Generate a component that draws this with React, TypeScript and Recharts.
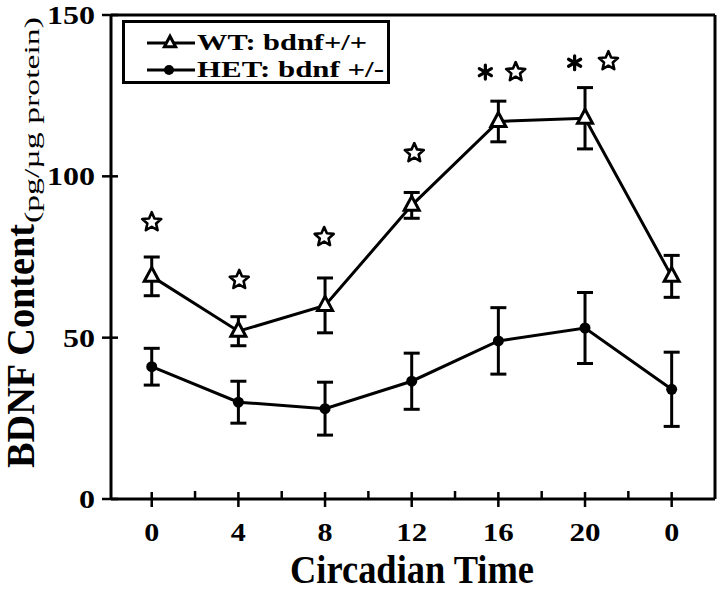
import React from "react";
import {
  ComposedChart,
  Line,
  Scatter,
  XAxis,
  YAxis,
  ErrorBar,
  ReferenceLine,
  Legend,
} from "recharts";

const FONT = "'Liberation Serif', 'Times New Roman', serif";

// circadian time points (x index 0..6)
const timeLabels = ["0", "4", "8", "12", "16", "20", "0"];

// BDNF content, pg/µg protein
const wtMean = [69, 52, 60, 91, 117, 118, 69];
const wtSem = [6, 4.5, 8.5, 4, 6.3, 9.5, 6.5];
const hetMean = [41, 30, 28, 36.5, 49, 53, 34];
const hetSem = [5.7, 6.5, 8.2, 8.7, 10.3, 11, 11.5];

// significance marks (x in time-index units)
const starX = [0, 1.01, 1.99, 3.03, 4.2, 5.27];
const starY = [85.8, 67.9, 81.2, 107.2, 132.3, 135.7];
const asteriskX = [3.85, 4.88];
const asteriskY = [132.3, 135.2];

const yTicks = [0, 50, 100, 150];
const xTicks = [0, 0.5, 1, 1.5, 2, 2.5, 3, 3.5, 4, 4.5, 5, 5.5, 6];
const seriesOrder = ["wt", "het"];

const rows = timeLabels.map((_, i) => ({
  x: i,
  wt: wtMean[i],
  wtErr: wtSem[i],
  het: hetMean[i],
  hetErr: hetSem[i],
}));
const stars = starX.map((x, i) => ({ x, y: starY[i] }));
const asterisks = asteriskX.map((x, i) => ({ x, y: asteriskY[i] }));

function XTick(props: any) {
  const { x, y, payload } = props;
  const v = payload.value;
  if (!Number.isInteger(v)) {
    return <line x1={x} x2={x} y1={y - 8} y2={y} stroke="#000" strokeWidth={2.5} />;
  }
  const label = timeLabels[v];
  return (
    <g>
      <line x1={x} x2={x} y1={y - 7} y2={y + 8} stroke="#000" strokeWidth={2.5} />
      <text
        x={x}
        y={y + 42}
        textAnchor="middle"
        fontFamily={FONT}
        fontWeight="bold"
        fontSize={26}
        textLength={label.length * 16 - 1}
        lengthAdjust="spacingAndGlyphs"
      >
        {label}
      </text>
    </g>
  );
}

function YTick(props: any) {
  const { x, y, payload } = props;
  const label = String(payload.value);
  return (
    <g>
      <line x1={x - 9} x2={x + 7} y1={y} y2={y} stroke="#000" strokeWidth={2.5} />
      <text
        x={x - 16}
        y={y + 9}
        textAnchor="end"
        fontFamily={FONT}
        fontWeight="bold"
        fontSize={26}
        textLength={label.length * 16}
        lengthAdjust="spacingAndGlyphs"
      >
        {label}
      </text>
    </g>
  );
}

function Triangle(p: any) {
  const { cx, cy, size = 1 } = p;
  if (cx == null || cy == null) return null;
  return (
    <polygon
      points={`${cx},${cy - 9 * size} ${cx - 7.5 * size},${cy + 5 * size} ${cx + 7.5 * size},${cy + 5 * size}`}
      fill="#fff"
      stroke="#000"
      strokeWidth={3}
    />
  );
}

function Dot(p: any) {
  const { cx, cy } = p;
  if (cx == null || cy == null) return null;
  return <circle cx={cx} cy={cy} r={5.5} fill="#000" />;
}

function StarMark(p: any) {
  const { cx, cy } = p;
  if (cx == null || cy == null) return null;
  const pts: string[] = [];
  for (let k = 0; k < 10; k++) {
    const r = k % 2 === 0 ? 10 : 4.6;
    const a = -Math.PI / 2 + (k * Math.PI) / 5;
    pts.push(`${cx + r * Math.cos(a)},${cy + r * Math.sin(a)}`);
  }
  return <polygon points={pts.join(" ")} fill="#fff" stroke="#000" strokeWidth={2.6} strokeLinejoin="round" />;
}

function AsteriskMark(p: any) {
  const { cx, cy } = p;
  if (cx == null || cy == null) return null;
  const arms = [0, 60, 120].map((deg) => {
    const a = (deg * Math.PI) / 180;
    const dx = 7 * Math.sin(a);
    const dy = 7 * Math.cos(a);
    return <line key={deg} x1={cx - dx} y1={cy - dy} x2={cx + dx} y2={cy + dy} stroke="#000" strokeWidth={3.2} strokeLinecap="round" />;
  });
  return <g>{arms}</g>;
}

function XLabel() {
  return (
    <text
      x={412}
      y={583}
      textAnchor="middle"
      fontFamily={FONT}
      fontWeight="bold"
      fontSize={40}
      textLength={244}
      lengthAdjust="spacingAndGlyphs"
    >
      Circadian Time
    </text>
  );
}

function YLabel() {
  return (
    <g>
      <text
        x={34}
        y={346}
        transform="rotate(-90, 34, 346)"
        textAnchor="middle"
        fontFamily={FONT}
        fontWeight="bold"
        fontSize={39}
        textLength={244}
        lengthAdjust="spacingAndGlyphs"
      >
        BDNF Content
      </text>
      <text
        x={39}
        y={120}
        transform="rotate(-90, 39, 120)"
        textAnchor="middle"
        fontFamily={FONT}
        fontSize={22}
        textLength={206}
        lengthAdjust="spacingAndGlyphs"
      >
        (pg/µg protein)
      </text>
    </g>
  );
}

function LegendBox(props: any) {
  const items = (props.payload || [])
    .filter((e: any) => e.type !== "none")
    .sort((a: any, b: any) => seriesOrder.indexOf(a.dataKey) - seriesOrder.indexOf(b.dataKey));
  return (
    <div
      style={{
        width: 268,
        height: 64,
        border: "3px solid #000",
        boxSizing: "border-box",
        background: "#fff",
      }}
    >
      <svg width={262} height={58} style={{ display: "block" }}>
        {items.map((e: any, i: number) => {
          const y = 20 + i * 27;
          return (
            <g key={e.value}>
              <line x1={22} x2={70} y1={y} y2={y} stroke="#000" strokeWidth={3} />
              {e.dataKey === "wt" ? (
                <Triangle cx={45} cy={y} size={0.75} />
              ) : (
                <circle cx={44} cy={y} r={5} fill="#000" />
              )}
              <text
                x={72}
                y={y + 7}
                fontFamily={FONT}
                fontWeight="bold"
                fontSize={23}
                textLength={i === 0 ? 170 : 187}
                lengthAdjust="spacingAndGlyphs"
              >
                {e.value}
              </text>
            </g>
          );
        })}
      </svg>
    </div>
  );
}

export default function App() {
  return (
    <div style={{ position: "absolute", left: 0, top: 0, background: "#fff" }}>
      <ComposedChart
        width={720}
        height={591}
        data={rows}
        margin={{ top: 15, right: 5, bottom: 0, left: 0 }}
      >
        <XAxis
          type="number"
          dataKey="x"
          domain={[-0.47, 6.5]}
          ticks={xTicks}
          interval={0}
          height={92}
          tickSize={0}
          tickMargin={0}
          tickLine={false}
          axisLine={{ stroke: "#000", strokeWidth: 3 }}
          tick={<XTick />}
          label={{ content: <XLabel /> }}
        />
        <YAxis
          type="number"
          domain={[0, 150]}
          ticks={yTicks}
          interval={0}
          width={111}
          tickSize={0}
          tickMargin={0}
          tickLine={false}
          axisLine={{ stroke: "#000", strokeWidth: 3 }}
          tick={<YTick />}
          label={{ content: <YLabel /> }}
        />
        <ReferenceLine y={150} stroke="#000" strokeWidth={3} />
        <ReferenceLine x={6.5} stroke="#000" strokeWidth={3} />
        <Legend
          layout="horizontal"
          verticalAlign="middle"
          align="center"
          wrapperStyle={{ left: 122, top: 20, width: 268, height: 64 }}
          content={<LegendBox />}
        />
        <Line
          dataKey="wt"
          name="WT: bdnf+/+"
          type="linear"
          stroke="#000"
          strokeWidth={3}
          dot={<Triangle />}
          activeDot={false}
          isAnimationActive={false}
        >
          <ErrorBar dataKey="wtErr" width={8} stroke="#000" strokeWidth={3} direction="y" />
        </Line>
        <Line
          dataKey="het"
          name="HET: bdnf +/-"
          type="linear"
          stroke="#000"
          strokeWidth={3}
          dot={<Dot />}
          activeDot={false}
          isAnimationActive={false}
        >
          <ErrorBar dataKey="hetErr" width={8} stroke="#000" strokeWidth={3} direction="y" />
        </Line>
        <Scatter data={stars} dataKey="y" legendType="none" shape={<StarMark />} isAnimationActive={false} />
        <Scatter data={asterisks} dataKey="y" legendType="none" shape={<AsteriskMark />} isAnimationActive={false} />
      </ComposedChart>
    </div>
  );
}
